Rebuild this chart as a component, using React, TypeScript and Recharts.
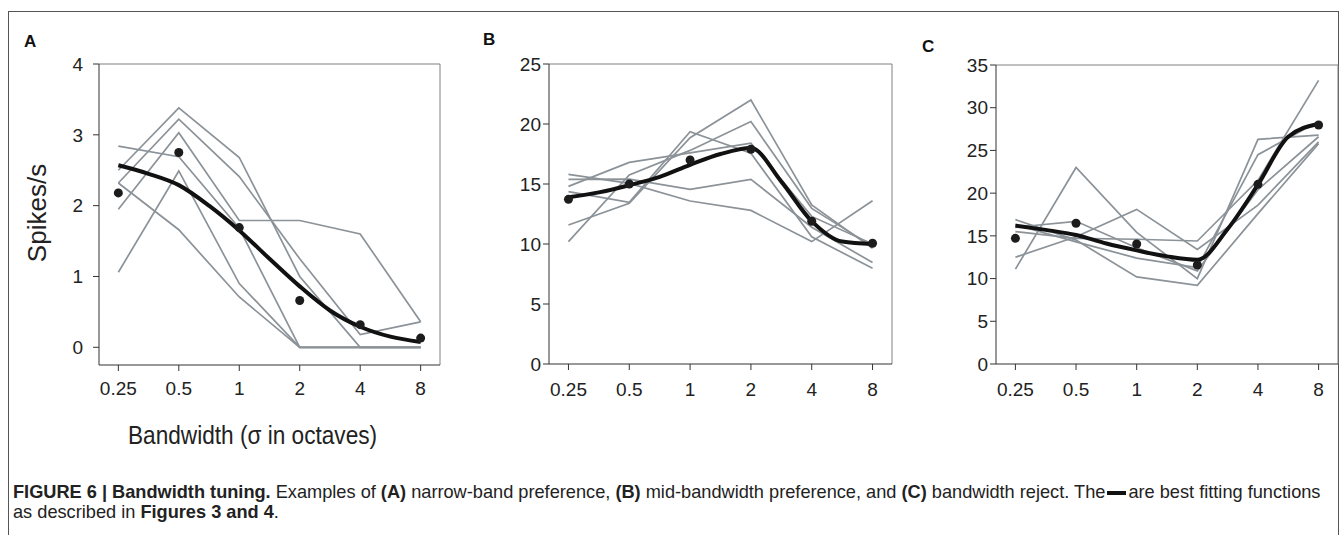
import { ComposedChart, Line, XAxis, YAxis, ReferenceLine } from "recharts";

const FONT = '"Liberation Sans", Arial, Helvetica, sans-serif';
const GRAY = "#8b9298";

// bandwidth categories (index positions on the x axis)
const xLabels = ["0.25", "0.5", "1", "2", "4", "8"];
const xTicks = [0, 1, 2, 3, 4, 5];
const fitX = [0, 0.5, 1, 1.5, 2, 2.5, 3, 3.5, 4, 4.5, 5];

// A: narrow-band preference
const aTrials = [
  [2.5, 3.38, 2.68, 1.0, 0.0, 0.0],
  [2.32, 3.22, 2.41, 1.25, 0.18, 0.36],
  [1.95, 3.03, 1.79, 1.79, 1.6, 0.36],
  [2.84, 2.69, 1.68, 0.0, 0.0, 0.0],
  [1.06, 2.49, 0.9, 0.0, 0.0, 0.0],
  [2.32, 1.66, 0.71, 0.0, 0.0, 0.0],
];
const aMeans = [2.18, 2.75, 1.69, 0.66, 0.32, 0.13];
const aFit = [2.57, 2.45, 2.29, 2.0, 1.65, 1.25, 0.86, 0.52, 0.29, 0.15, 0.075];

// B: mid-bandwidth preference
const bTrials = [
  [14.8, 16.8, 17.6, 18.4, 12.3, 10.0],
  [15.8, 15.05, 13.58, 12.8, 10.2, 13.6],
  [15.39, 15.4, 14.56, 15.39, 11.4, 8.45],
  [14.36, 13.47, 19.36, 17.56, 10.6, 7.97],
  [11.58, 13.4, 18.86, 22.0, 13.25, 9.64],
  [10.2, 15.75, 17.8, 20.2, 12.97, 9.8],
];
const bMeans = [13.72, 15.0, 17.0, 17.9, 11.9, 10.06];
const bFit = [13.9, 14.3, 14.9, 15.6, 16.6, 17.5, 18.0, 15.2, 11.9, 10.2, 10.0];

// C: bandwidth reject
const cTrials = [
  [11.1, 23.0, 15.4, 10.0, 26.3, 26.8],
  [12.5, 14.9, 18.1, 13.4, 18.6, 26.0],
  [16.9, 14.5, 10.2, 9.2, 17.6, 25.8],
  [16.3, 14.3, 12.4, 11.3, 24.5, 28.4],
  [15.5, 14.7, 14.6, 14.4, 21.5, 33.2],
  [16.0, 16.7, 13.6, 10.9, 20.4, 26.6],
];
const cMeans = [14.71, 16.47, 14.05, 11.59, 21.03, 27.98];
const cFit = [16.2, 15.7, 15.1, 14.1, 13.3, 12.6, 12.2, 15.8, 21.0, 26.6, 28.1];

const trialKeys = ["t0", "t1", "t2", "t3", "t4", "t5"];

function buildRows(trials: number[][], means: number[], fit: number[]) {
  return fitX.map((x, i) => {
    const row: Record<string, number | null> = { x, fit: fit[i], mean: null };
    const idx = Number.isInteger(x) ? x : -1;
    trialKeys.forEach((k, t) => {
      row[k] = idx >= 0 ? trials[t][idx] : null;
    });
    if (idx >= 0) row.mean = means[idx];
    return row;
  });
}

type PanelProps = {
  left: number;
  width: number;
  marginTop: number;
  marginBottom: number;
  marginRight: number;
  yDomain: [number, number];
  yTicks: number[];
  yTickMargin: number;
  xTickMargin: number;
  rows: Record<string, number | null>[];
};

function Panel(p: PanelProps) {
  const tickStyle = { fill: "#222", fontSize: 19, fontFamily: FONT };
  return (
    <div style={{ position: "absolute", left: p.left, top: 0 }}>
      <ComposedChart
        width={p.width}
        height={470}
        data={p.rows}
        margin={{ top: p.marginTop, right: p.marginRight, bottom: p.marginBottom, left: 0 }}
      >
        <XAxis
          type="number"
          dataKey="x"
          domain={[-0.32, 5.32]}
          ticks={xTicks}
          interval={0}
          tickFormatter={(v: number) => xLabels[v]}
          height={40}
          tickSize={6}
          tickMargin={p.xTickMargin}
          tick={tickStyle}
          axisLine={{ stroke: "#333" }}
          tickLine={{ stroke: "#333" }}
        />
        <YAxis
          type="number"
          domain={p.yDomain}
          ticks={p.yTicks}
          interval={0}
          width={99}
          tickSize={6}
          tickMargin={p.yTickMargin}
          tick={tickStyle}
          axisLine={{ stroke: "#333" }}
          tickLine={{ stroke: "#333" }}
        />
        <ReferenceLine y={p.yDomain[1]} stroke="#808080" ifOverflow="visible" />
        <ReferenceLine x={5.32} stroke="#808080" ifOverflow="visible" />
        {trialKeys.map((k) => (
          <Line
            key={k}
            dataKey={k}
            type="linear"
            stroke={GRAY}
            strokeWidth={1.7}
            dot={false}
            activeDot={false}
            connectNulls
            isAnimationActive={false}
          />
        ))}
        <Line
          dataKey="fit"
          type="monotone"
          stroke="#111"
          strokeWidth={4}
          dot={false}
          activeDot={false}
          isAnimationActive={false}
        />
        <Line
          dataKey="mean"
          stroke="none"
          dot={{ r: 4.5, fill: "#1c1c1c", stroke: "none" }}
          activeDot={false}
          isAnimationActive={false}
        />
      </ComposedChart>
    </div>
  );
}

const letterStyle = {
  position: "absolute" as const,
  fontFamily: FONT,
  fontWeight: 700,
  fontSize: 17,
  color: "#111",
  lineHeight: "17px",
};

export default function App() {
  return (
    <div
      style={{
        position: "absolute",
        left: 0,
        top: 0,
        width: 1342,
        height: 535,
        overflow: "hidden",
        background: "#fff",
      }}
    >
      <div
        style={{
          position: "absolute",
          left: 8,
          top: 11,
          width: 1331,
          height: 560,
          boxSizing: "border-box",
          border: "1px solid #555",
        }}
      />
      <Panel
        left={0}
        width={460}
        marginTop={64}
        marginBottom={65}
        marginRight={20}
        yDomain={[-0.25, 4]}
        yTicks={[0, 1, 2, 3, 4]}
        yTickMargin={10}
        xTickMargin={11}
        rows={buildRows(aTrials, aMeans, aFit)}
      />
      <Panel
        left={450}
        width={462}
        marginTop={64}
        marginBottom={66}
        marginRight={20}
        yDomain={[0, 25]}
        yTicks={[0, 5, 10, 15, 20, 25]}
        yTickMargin={2}
        xTickMargin={13}
        rows={buildRows(bTrials, bMeans, bFit)}
      />
      <Panel
        left={897}
        width={443}
        marginTop={65}
        marginBottom={66}
        marginRight={2}
        yDomain={[0, 35]}
        yTicks={[0, 5, 10, 15, 20, 25, 30, 35]}
        yTickMargin={2}
        xTickMargin={13}
        rows={buildRows(cTrials, cMeans, cFit)}
      />

      <div style={{ ...letterStyle, left: 24, top: 33 }}>A</div>
      <div style={{ ...letterStyle, left: 483, top: 31 }}>B</div>
      <div style={{ ...letterStyle, left: 922, top: 38 }}>C</div>

      <div
        style={{
          position: "absolute",
          left: 37,
          top: 213,
          transform: "translate(-50%, -50%) rotate(-90deg)",
          fontFamily: FONT,
          fontSize: 26,
          color: "#222",
          whiteSpace: "nowrap",
        }}
      >
        Spikes/s
      </div>
      <div
        style={{
          position: "absolute",
          left: 128,
          top: 420,
          transform: "scaleX(0.87)",
          transformOrigin: "0 0",
          fontFamily: FONT,
          fontSize: 26,
          lineHeight: "30px",
          color: "#222",
          whiteSpace: "nowrap",
        }}
      >
        Bandwidth (σ in octaves)
      </div>

      <div
        style={{
          position: "absolute",
          left: 13,
          top: 482,
          fontFamily: FONT,
          fontSize: 18.2,
          lineHeight: "20px",
          color: "#222",
          whiteSpace: "nowrap",
        }}
      >
        <div>
          <b>FIGURE 6 | Bandwidth tuning.</b> Examples of <b>(A)</b> narrow-band preference, <b>(B)</b>{" "}
          mid-bandwidth preference, and <b>(C)</b> bandwidth reject. The
          <span
            style={{
              display: "inline-block",
              width: 19,
              height: 4,
              background: "#111",
              verticalAlign: "middle",
              margin: "0 2px",
            }}
          />
          are best fitting functions
        </div>
        <div>
          as described in <b>Figures 3 and 4</b>.
        </div>
      </div>
    </div>
  );
}
